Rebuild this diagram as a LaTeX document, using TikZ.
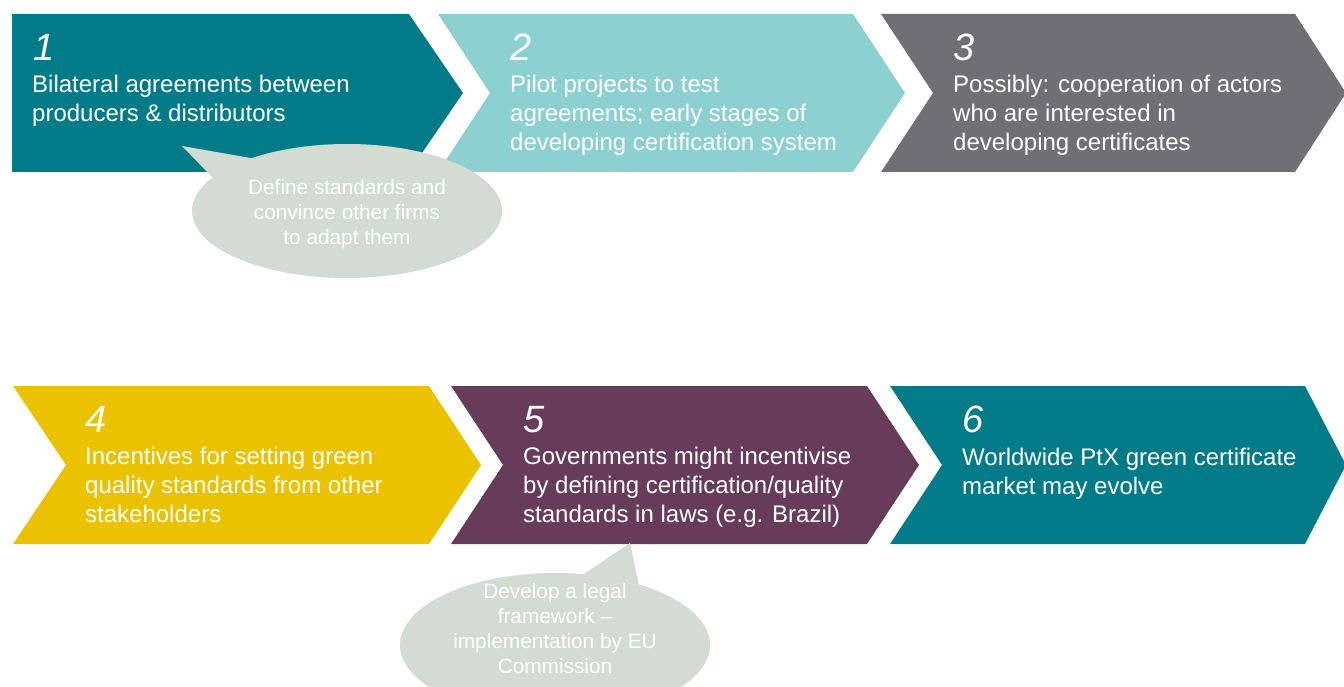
\documentclass[tikz,border=0pt]{standalone}
\usepackage{fontspec}
\setmainfont{Liberation Sans}
\usepackage{tikz}
\definecolor{petrol}{HTML}{007B87}
\definecolor{hpetrol}{HTML}{8DD0D1}
\definecolor{grau}{HTML}{707074}
\definecolor{gelb}{HTML}{EBC200}
\definecolor{lila}{HTML}{673C5A}
\definecolor{blase}{HTML}{D2DCD3}
\tikzset{
  nummer/.style={anchor=base west,inner sep=0pt,text=white,font=\fontsize{38}{40}\selectfont\itshape},
  stufe/.style={anchor=base west,inner sep=0pt,text=white,align=left,font=\fontsize{24}{29}\selectfont},
  sprech/.style={fill=blase},
  sprechtext/.style={inner sep=0pt,text=white,align=center,font=\fontsize{20.8}{25}\selectfont},
}
\begin{document}
\begin{tikzpicture}[x=1pt,y=-1pt]
  \useasboundingbox (0,0) rectangle (1344,687);
  \clip (0,0) rectangle (1344,687);
  % ===== row 1 =====
  \fill[petrol] (12,14) -- (409,14) -- (463,93) -- (409,172) -- (12,172) -- cycle;
  \fill[hpetrol] (438,14) -- (853,14) -- (905,93) -- (853,172) -- (438,172) -- (490,93) -- cycle;
  \fill[grau] (881,14) -- (1295,14) -- (1346,93) -- (1295,172) -- (881,172) -- (933,93) -- cycle;
  % text anchored at the baseline of its last line
  \node[nummer] (n1) at (33,61) {1};
  \node[stufe] (s1) at (32,122) {Bilateral agreements between\\producers \& distributors};
  \node[nummer] (n2) at (510,61) {2};
  \node[stufe] (s2) at (510,151) {Pilot projects to test\\agreements; early stages of\\developing certification system};
  \node[nummer] (n3) at (953,61) {3};
  \node[stufe] (s3) at (953,151) {Possibly: cooperation of actors\\who are interested in\\developing certificates};
  % speech bubble 1
  \fill[sprech] (182,146) -- (262,160) -- (215,180) -- cycle;
  \fill[sprech] (347,211) ellipse [x radius=155,y radius=67];
  \node[sprechtext] (b1) at (347,214) {Define standards and\\convince other firms\\to adapt them};
  % ===== row 2 =====
  \fill[gelb] (13,386) -- (429,386) -- (481,465) -- (429,544) -- (13,544) -- (66,465) -- cycle;
  \fill[lila] (451,386) -- (867,386) -- (919,465) -- (867,544) -- (451,544) -- (503,465) -- cycle;
  \fill[petrol] (890,386) -- (1305,386) -- (1346,465) -- (1305,544) -- (890,544) -- (942,465) -- cycle;
  \node[nummer] (n4) at (85,432) {4};
  \node[stufe] (s4) at (85,522) {Incentives for setting green\\quality standards from other\\stakeholders};
  \node[nummer] (n5) at (523,432) {5};
  \node[stufe] (s5) at (523,522) {Governments might incentivise\\by defining certification/quality\\standards in laws (e.g. Brazil)};
  \node[nummer] (n6) at (962,432) {6};
  \node[stufe] (s6) at (962,494) {Worldwide PtX green certificate\\market may evolve};
  % speech bubble 2
  \fill[sprech] (630,543) -- (575,580) -- (640,590) -- cycle;
  \fill[sprech] (555,645) ellipse [x radius=155,y radius=72];
  \node[sprechtext] (b2) at (555,629) {Develop a legal\\framework –\\implementation by EU\\Commission};
\end{tikzpicture}
\end{document}
